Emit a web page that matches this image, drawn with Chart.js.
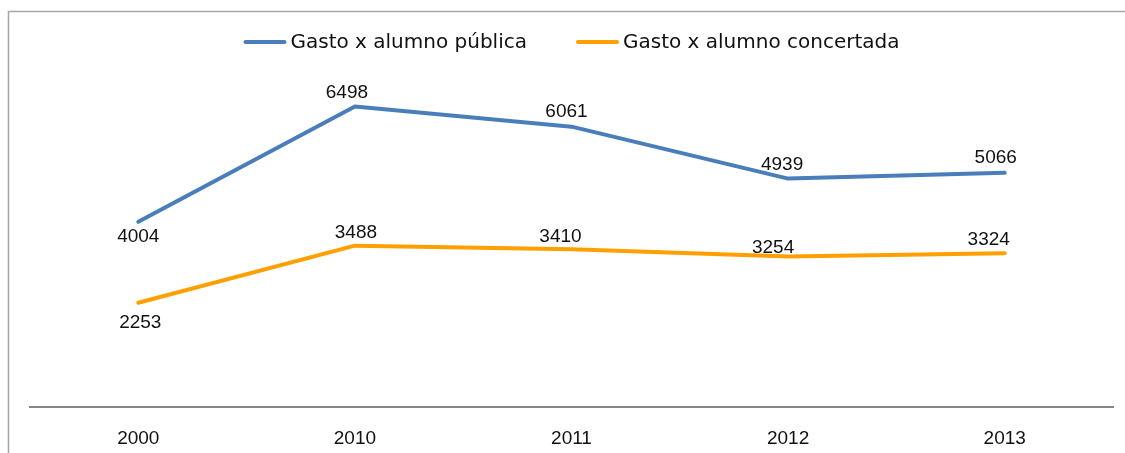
<!DOCTYPE html>
<html>
<head>
<meta charset="utf-8">
<script src="https://cdn.jsdelivr.net/npm/chart.js@4.4.1/dist/chart.umd.min.js"></script>
<style>
  html, body { margin: 0; padding: 0; background: #ffffff; }
  #wrap { width: 1125px; height: 453px; position: relative; }
</style>
</head>
<body>
<div id="wrap"><canvas id="c" width="1125" height="453"></canvas></div>
<script>
const categories = ['2000', '2010', '2011', '2012', '2013'];
const seriesNames = ['Gasto x alumno pública', 'Gasto x alumno concertada'];
const publica = [4004, 6498, 6061, 4939, 5066];
const concertada = [2253, 3488, 3410, 3254, 3324];

const FONT = '"DejaVu Sans", sans-serif';
const NUMFONT = '"Liberation Sans", Arial, sans-serif';
const BLUE = '#4A7EBB';
const ORANGE = '#FFA000';

// label placement (offsets relative to point, in px)
const labelOffsets = [
  { dx: [0, -8, -5, -6, -9], dy: [15, -14, -15, -14, -15] },
  { dx: [2, 1, -11, -15, -16], dy: [20, -13, -13, -9, -13] }
];

const framePlugin = {
  id: 'frame',
  beforeDraw(chart) {
    const ctx = chart.ctx;
    ctx.save();
    ctx.fillStyle = '#ffffff';
    ctx.fillRect(0, 0, chart.width, chart.height);
    ctx.strokeStyle = '#A6A6A6';
    ctx.lineWidth = 1.5;
    ctx.beginPath();
    ctx.moveTo(8.5, chart.height);
    ctx.lineTo(8.5, 11.5);
    ctx.lineTo(chart.width, 11.5);
    ctx.stroke();
    ctx.restore();
  }
};

const legendPlugin = {
  id: 'customLegend',
  afterDraw(chart) {
    const ctx = chart.ctx;
    ctx.save();
    ctx.font = '20px ' + FONT;
    ctx.textBaseline = 'middle';
    const sw = 43, gapT = 4, gapItem = 49, y = 42;
    const items = chart.data.datasets.map(d => ({ label: d.label, color: d.borderColor, w: ctx.measureText(d.label).width }));
    let total = 0;
    items.forEach((it, i) => { total += sw + gapT + it.w + (i < items.length - 1 ? gapItem : 0); });
    const ca = chart.chartArea;
    let x = (ca.left + ca.right) / 2 - total / 2;
    items.forEach(it => {
      ctx.strokeStyle = it.color;
      ctx.lineWidth = 4;
      ctx.lineCap = 'round';
      ctx.beginPath();
      ctx.moveTo(x + 2, y);
      ctx.lineTo(x + sw - 2, y);
      ctx.stroke();
      ctx.fillStyle = '#111111';
      ctx.textAlign = 'left';
      ctx.fillText(it.label, x + sw + gapT, y + 1);
      x += sw + gapT + it.w + gapItem;
    });
    ctx.restore();
  }
};

const labelPlugin = {
  id: 'pointLabels',
  afterDatasetsDraw(chart) {
    const ctx = chart.ctx;
    ctx.save();
    ctx.font = '19px ' + NUMFONT;
    ctx.fillStyle = '#111111';
    ctx.textAlign = 'center';
    ctx.textBaseline = 'middle';
    chart.data.datasets.forEach((ds, di) => {
      const meta = chart.getDatasetMeta(di);
      meta.data.forEach((pt, i) => {
        const off = labelOffsets[di];
        ctx.fillText(String(ds.data[i]), pt.x + off.dx[i], pt.y + off.dy[i]);
      });
    });
    ctx.restore();
  }
};

new Chart(document.getElementById('c'), {
  type: 'line',
  data: {
    labels: categories,
    datasets: [
      { label: seriesNames[0], data: publica, borderColor: BLUE, backgroundColor: BLUE, borderWidth: 4, pointRadius: 0, tension: 0, borderCapStyle: 'round', borderJoinStyle: 'round' },
      { label: seriesNames[1], data: concertada, borderColor: ORANGE, backgroundColor: ORANGE, borderWidth: 4, pointRadius: 0, tension: 0, borderCapStyle: 'round', borderJoinStyle: 'round' }
    ]
  },
  options: {
    responsive: false,
    animation: false,
    devicePixelRatio: 1,
    layout: { padding: { top: 37, left: 30, right: 12, bottom: 0 } },
    plugins: { legend: { display: false }, tooltip: { enabled: false } },
    scales: {
      x: {
        type: 'category',
        offset: true,
        grid: { display: false, drawTicks: false },
        border: { display: true, color: '#868686', width: 2 },
        ticks: { padding: 20, color: '#111111', font: { family: NUMFONT, size: 19 } },
        afterFit(scale) { scale.height = 46; }
      },
      y: {
        display: false,
        min: 0,
        max: 8000
      }
    }
  },
  plugins: [framePlugin, legendPlugin, labelPlugin]
});
</script>
</body>
</html>
